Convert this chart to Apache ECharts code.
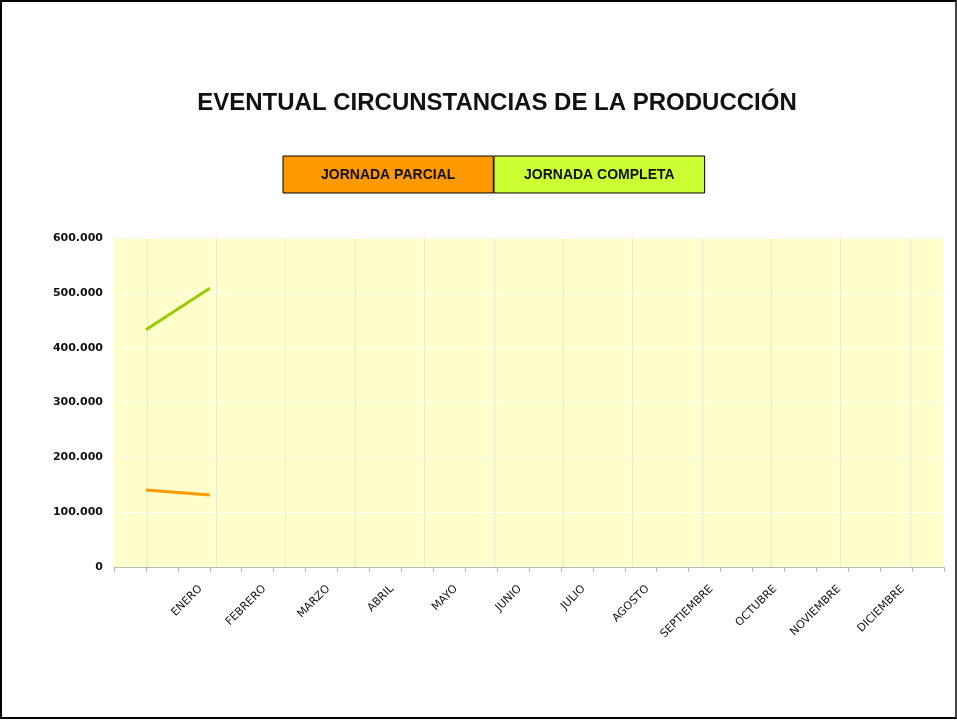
<!DOCTYPE html>
<html>
<head>
<meta charset="utf-8">
<script src="https://cdn.jsdelivr.net/npm/echarts@6/dist/echarts.min.js"></script>
<style>
    body { margin: 0; background: #fff; }
    #chart { position: absolute; left: 0; top: 0; width: 957px; height: 720px; }
    #marco { position: absolute; left: 0; top: 0; width: 957px; height: 719px; box-sizing: border-box; border: 2px solid #000; border-right-color: #444; pointer-events: none; }
</style>
</head>
<body>
<div id="chart"></div>
<div id="marco"></div>
<script>
// datos
var meses = ['', 'ENERO', 'FEBRERO', 'MARZO', 'ABRIL', 'MAYO', 'JUNIO', 'JULIO', 'AGOSTO', 'SEPTIEMBRE', 'OCTUBRE', 'NOVIEMBRE', 'DICIEMBRE'];
var jornadaParcial = [140500, 131500];
var jornadaCompleta = [432700, 508400];

var myChart = echarts.init(document.getElementById('chart'));

function miles(v) {    // 600000 -> 600.000
    return String(v).replace(/\B(?=(\d{3})+(?!\d))/g, '.');
}

myChart.setOption({
    title: {
        text: 'EVENTUAL CIRCUNSTANCIAS DE LA PRODUCCIÓN',
        left: 492,
        top: 86,
        textAlign: 'center',
        textStyle: { fontFamily: 'Liberation Sans', fontWeight: 'bold', fontSize: 24, color: '#111' }
    },
    legend: [{
        data: ['JORNADA PARCIAL'],
        left: 283,
        top: 156,
        icon: 'rect',
        itemWidth: 0,
        itemHeight: 0,
        padding: [12, 38, 11, 33],
        backgroundColor: '#FF9900',
        borderColor: '#000',
        borderWidth: 1,
        selectedMode: false,
        textStyle: { fontFamily: 'Liberation Sans', fontWeight: 'bold', fontSize: 14, lineHeight: 14, color: '#111' }
    }, {
        data: ['JORNADA COMPLETA'],
        left: 494,
        top: 156,
        icon: 'rect',
        itemWidth: 0,
        itemHeight: 0,
        padding: [12, 30, 11, 25],
        backgroundColor: '#CCFF33',
        borderColor: '#000',
        borderWidth: 1,
        selectedMode: false,
        textStyle: { fontFamily: 'Liberation Sans', fontWeight: 'bold', fontSize: 14, lineHeight: 14, color: '#111' }
    }],
    grid: [{    // area del grafico
        left: 114, right: 13, top: 238, bottom: 153,
        show: true,
        backgroundColor: '#FFFFCC',
        borderWidth: 0
    }, {    // solo para las lineas verticales
        left: 147, right: 47, top: 238, bottom: 153
    }],
    xAxis: [{
        type: 'category',
        gridIndex: 0,
        data: meses,
        boundaryGap: true,
        axisLine: { show: false },
        axisTick: { show: false },
        axisLabel: {
            interval: 0,
            rotate: 45,
            margin: 11,
            padding: [0, 13, 0, 0],
            fontFamily: 'DejaVu Sans',
            fontSize: 11,
            color: '#111'
        },
        splitLine: { show: false }
    }, {    // marcas del eje
        type: 'value',
        gridIndex: 0,
        position: 'bottom',
        min: 0,
        max: 26,
        interval: 1,
        axisLine: { show: true, lineStyle: { color: '#b8b8b8', width: 1 } },
        axisTick: { show: true, length: 5, lineStyle: { color: '#b8b8b8' } },
        axisLabel: { show: false },
        splitLine: { show: false }
    }, {
        type: 'value',
        gridIndex: 1,
        min: 0,
        max: 11,
        interval: 1,
        axisLine: { show: false },
        axisTick: { show: false },
        axisLabel: { show: false },
        splitLine: { show: true, lineStyle: { color: '#eaeacf', width: 1 } }
    }],
    yAxis: [{
        type: 'value',
        gridIndex: 0,
        min: 0,
        max: 600000,
        interval: 100000,
        axisLine: { show: false },
        axisTick: { show: false },
        axisLabel: {
            margin: 11,
            formatter: miles,
            fontFamily: 'DejaVu Sans',
            fontWeight: 'bold',
            fontSize: 11,
            color: '#111'
        },
        splitLine: { lineStyle: { color: '#ffffff', width: 1 } }
    }, {
        type: 'value',
        gridIndex: 1,
        show: false,
        splitLine: { show: false }
    }],
    series: [{
        name: 'JORNADA PARCIAL',
        type: 'line',
        xAxisIndex: 0,
        yAxisIndex: 0,
        data: jornadaParcial,
        showSymbol: false,
        lineStyle: { color: '#FF9900', width: 3 },
        itemStyle: { color: '#FF9900' }
    }, {
        name: 'JORNADA COMPLETA',
        type: 'line',
        xAxisIndex: 0,
        yAxisIndex: 0,
        data: jornadaCompleta,
        showSymbol: false,
        lineStyle: { color: '#99CC00', width: 3 },
        itemStyle: { color: '#99CC00' }
    }]
});
</script>
</body>
</html>
